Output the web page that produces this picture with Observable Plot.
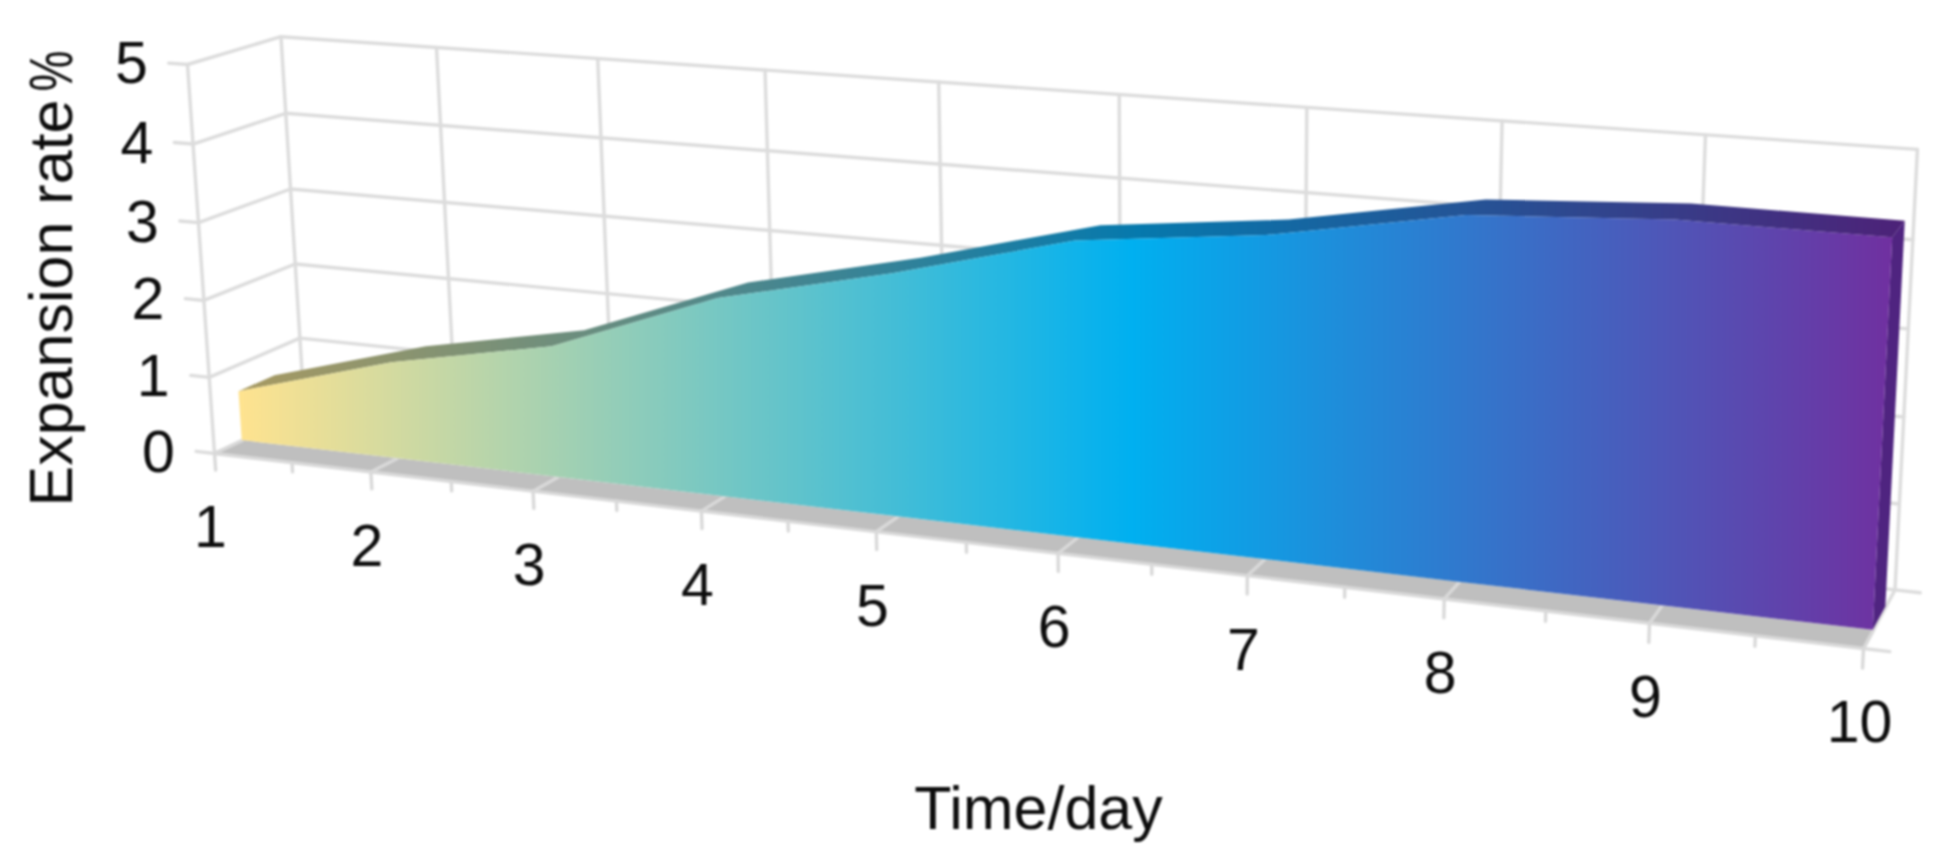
<!DOCTYPE html>
<html><head><meta charset="utf-8">
<style>html,body{margin:0;padding:0;background:#fff;overflow:hidden}svg{display:block;filter:blur(.8px)}</style>
<script src="https://cdn.jsdelivr.net/npm/d3@7"></script>
<script src="https://cdn.jsdelivr.net/npm/@observablehq/plot@0.6"></script>
</head><body><script>
const days=[1,2,3,4,5,6,7,8,9,10];
const expansion=[0.65,1.25,1.67,2.48,2.98,3.56,3.81,4.22,4.35,4.34];
const minorDays=[1.5,2.5,3.5,4.5,5.5,6.5,7.5,8.5,9.5];
const valueTicks=[0,1,2,3,4,5];
const xTitle="Time/day", yTitle="Expansion rate%";

// perspective camera of the 3-D box: day, value and depth -> page
const O=[214,453],X=[1863,648],Y=[187,64],Z=[304,411],a=-0.162,b=-0.027,c=0.04;
const seriesFront=0.3,seriesBack=0.7;
function P(day,val,w){
  const u=(day-1)/9,v=val/5,D=1+a*u+b*v+c*w;
  const f=i=>(O[i]+u*((1+a)*X[i]-O[i])+v*((1+b)*Y[i]-O[i])+w*((1+c)*Z[i]-O[i]))/D;
  return [f(0),f(1)];
}
const seg=[];let id=0;
const line=(p,q)=>{id++;seg.push({id,x:p[0],y:p[1]},{id,x:q[0],y:q[1]});};
for(const v of valueTicks){line(P(1,v,1),P(10,v,1));line(P(1,v,0),P(1,v,1));line(P(0.88,v,0),P(1,v,0));}
for(const d of days)line(P(d,0,1),P(d,5,1));
line(P(1,0,0),P(1,5,0));
line(P(10,0,0),P(10,0,1));
line(P(10,0,0),P(10.12,0,0));line(P(10,0,1),P(10.12,0,1));

const ticks=[];let tid=0;
const tick=(p,q)=>{tid++;ticks.push({id:tid,x:p[0],y:p[1]},{id:tid,x:q[0],y:q[1]});};
for(const d of days){tick(P(d,0,0),P(d,-0.22,0));tick(P(d,0,0),P(d,0,seriesFront));}
for(const d of minorDays)tick(P(d,0,0),P(d,-0.12,0));
tick(P(1,0,0),P(10,0,0));

const band=(rows)=>rows.map(([p,q])=>({x1:p[0],y1:p[1],x2:q[0],y2:q[1]}));
const floorBand=band([1,10].map(d=>[P(d,0,0),P(d,0,seriesFront)]));
const frontBand=band(days.map((d,i)=>[P(d,0,seriesFront),P(d,expansion[i],seriesFront)]));
const lidBand=band(days.map((d,i)=>[P(d,expansion[i],seriesFront),P(d,expansion[i],seriesBack)]));
const last=expansion[expansion.length-1];
const sideBand=band([0,last].map(v=>[P(10,v,seriesFront),P(10,v,seriesBack)]));
const pt=([x,y],t)=>({x,y,t});
const yLabels=valueTicks.map(v=>pt(P(1,v,0),String(v)));
const xLabels=days.map(d=>pt(P(d,0,0),String(d)));

function defs(){
  const mk=(gid,st)=>`<linearGradient id="${gid}">`+st.map(([o,k])=>`<stop offset="${o}" stop-color="${k}"/>`).join("")+`</linearGradient>`;
  const g=d3.create("svg:defs");
  g.html(mk("face",[[0,"#ffe38f"],[0.54,"#00b0f0"],[1,"#7030a0"]])+mk("lid",[[0,"#a89a62"],[0.54,"#0679ad"],[1,"#4d2278"]]));
  return g.node();
}
const font="'Liberation Sans',Arial,sans-serif";
const ink="#0d0d0d";
const chart=Plot.plot({
  width:1957,height:858,margin:0,
  x:{type:"identity",axis:null},y:{type:"identity",axis:null},
  style:{background:"#fff",fontFamily:font},
  marks:[
    defs,
    Plot.line(seg,{x:"x",y:"y",z:"id",stroke:"#dcdcdc",strokeWidth:3.4}),
    Plot.area(floorBand,{x1:"x1",y1:"y1",x2:"x2",y2:"y2",fill:"#bfbfbf"}),
    Plot.line(ticks,{x:"x",y:"y",z:"id",stroke:"#d9d9d9",strokeWidth:3.4}),
    Plot.area(sideBand,{x1:"x1",y1:"y1",x2:"x2",y2:"y2",fill:"#4f2480"}),
    Plot.area(lidBand,{x1:"x1",y1:"y1",x2:"x2",y2:"y2",fill:"url(#lid)"}),
    Plot.area(frontBand,{x1:"x1",y1:"y1",x2:"x2",y2:"y2",fill:"url(#face)"}),
    Plot.text(yLabels,{x:"x",y:"y",text:"t",dx:-56,fontSize:59,fill:ink,textAnchor:"middle"}),
    Plot.text(xLabels,{x:"x",y:"y",text:"t",dx:-4,dy:75,fontSize:59,fill:ink,textAnchor:"middle"}),
    Plot.text([xTitle],{x:()=>1038,y:()=>809,text:d=>d,fontSize:61,fill:ink,textAnchor:"middle"}),
    Plot.text([yTitle],{x:()=>52,y:()=>278,text:d=>d,rotate:-90,fontSize:61,fill:ink,textAnchor:"middle"})
  ]
});
// the reference sets the % sign narrow and slightly apart
d3.select(chart).selectAll("text").filter(function(){return this.textContent===yTitle;}).each(function(){
  const t=d3.select(this);
  t.text(yTitle.slice(0,-1));
  t.append("tspan").attr("dx",8).attr("textLength",41).attr("lengthAdjust","spacingAndGlyphs").attr("font-weight",300).text("%");
});
document.body.appendChild(chart);
</script></body></html>
